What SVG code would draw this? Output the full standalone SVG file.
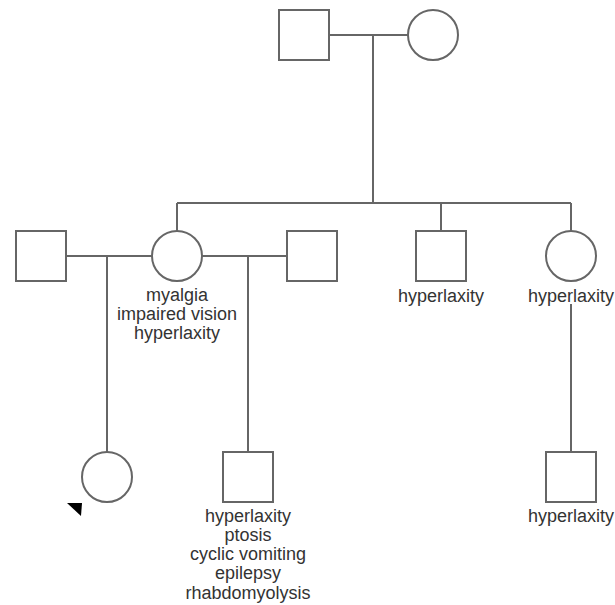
<svg xmlns="http://www.w3.org/2000/svg" width="615" height="605" viewBox="0 0 615 605">
<style>
.s{fill:#fff;stroke:#666;stroke-width:2}
.c{fill:none;stroke:#666;stroke-width:2}
text{font-family:"Liberation Sans",Arial,sans-serif;font-size:18px;fill:#333;text-anchor:middle}
</style>
<rect width="615" height="605" fill="#fff"/>
<g id="connectors">
<path class="c" d="M329 35H408M373 35V203M177 203H571M177 203V231M441 203V231M571 203V231"/>
<path class="c" d="M66 256H152M107 256V452M202 256H287M248 256V452M571 304V452"/>
</g>
<g id="grandfather"><rect class="s" x="279" y="10" width="50" height="50"/></g>
<g id="grandmother"><circle class="s" cx="433" cy="35" r="25"/></g>
<g id="husband1"><rect class="s" x="16" y="231" width="50" height="50"/></g>
<g id="mother"><circle class="s" cx="177" cy="256" r="25"/>
<text x="177" y="301">myalgia</text><text x="177" y="320">impaired vision</text><text x="177" y="339">hyperlaxity</text></g>
<g id="husband2"><rect class="s" x="287" y="231" width="50" height="50"/></g>
<g id="uncle"><rect class="s" x="416" y="231" width="50" height="50"/><text x="441" y="302">hyperlaxity</text></g>
<g id="aunt"><circle class="s" cx="571" cy="256" r="25"/><text x="571" y="302">hyperlaxity</text></g>
<g id="proband"><circle class="s" cx="107" cy="477" r="25"/><polygon points="67,503 82,503 81,516" fill="#000"/></g>
<g id="halfbrother"><rect class="s" x="223" y="452" width="50" height="50"/>
<text x="248" y="522">hyperlaxity</text><text x="248" y="541">ptosis</text><text x="248" y="560">cyclic vomiting</text><text x="248" y="579">epilepsy</text><text x="248" y="599">rhabdomyolysis</text></g>
<g id="cousin"><rect class="s" x="546" y="452" width="50" height="50"/><text x="571" y="522">hyperlaxity</text></g>
</svg>
